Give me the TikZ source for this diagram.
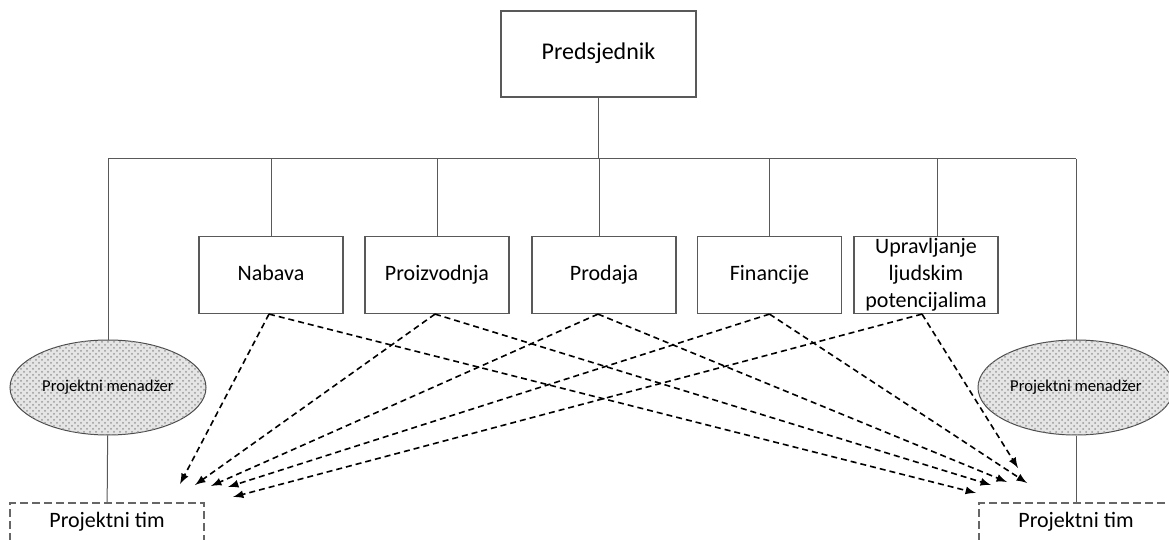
\documentclass[tikz,border=0pt]{standalone}
\usepackage{fontspec}
\setmainfont{Carlito}
\usetikzlibrary{patterns,shapes.geometric}

\tikzset{
  boss/.style={draw=black!65,line width=0.6pt,minimum width=97.5pt,minimum height=43pt,inner sep=0pt,text height=1.6ex,text depth=0.45ex,font=\fontsize{12}{14}\selectfont},
  dept/.style={draw=black!65,line width=0.6pt,minimum width=72pt,minimum height=38.5pt,inner sep=0pt,text height=1.6ex,text depth=0.45ex,align=center,font=\fontsize{11}{13.5}\selectfont},
  pm/.style={draw=black!70,line width=0.5pt,shape=ellipse,minimum width=98pt,minimum height=47.5pt,inner sep=0pt,
    fill=black!10,postaction={pattern=crosshatch dots,pattern color=black!40},font=\fontsize{8.3}{10}\selectfont},
  tim/.style={draw=black!60,dashed,dash pattern=on 4pt off 2pt,line width=0.6pt,minimum width=97pt,minimum height=19pt,inner sep=0pt,text height=1.6ex,text depth=0.45ex,font=\fontsize{11}{13}\selectfont},
  veza/.style={draw=black!65,line width=0.5pt},
  tok/.style={dashed,dash pattern=on 3pt off 2pt,line width=0.8pt,->}
}

\begin{document}
\begin{tikzpicture}[x=0.5pt,y=-0.5pt,>=latex]
      \useasboundingbox (0,0) rectangle (1169,540);
      \node at (598.5,54)[boss] (pred){Predsjednik};
      \node at (271,275)[dept] (nab){Nabava};
      \node at (437,275)[dept] (proi){Proizvodnja};
      \node at (604,275)[dept] (prod){Prodaja};
      \node at (769.5,275)[dept] (fin){Financije};
      \node at (926,275)[dept,text height=,text depth=] (upr){Upravljanje\\ljudskim\\potencijalima};
      \node at (108,387.5)[pm] (pml){Projektni menadžer};
      \node at (1076,387.5)[pm] (pmr){Projektni menadžer};
      \node at (107,522)[tim] (timl){Projektni tim};
      \node at (1076,522)[tim] (timr){Projektni tim};
      % linija ispod predsjednika
      \coordinate (hl) at (108,159);
      \coordinate (hr) at (1076,159);
      \draw[veza] (hl) -- (hr);
      \draw[veza] (pred) -- (pred |- hl);
      \draw[veza] (nab) -- (nab |- hl);
      \draw[veza] (proi) -- (proi |- hl);
      \draw[veza] ([xshift=-2.5pt]prod.north) -- ([xshift=-2.5pt]prod.north |- hl);
      \draw[veza] (fin) -- (fin |- hl);
      \draw[veza] ([xshift=5.5pt]upr.north) -- ([xshift=5.5pt]upr.north |- hl);
      \draw[veza] (pml) -- (hl);
      \draw[veza] (pmr) -- (hr);
      \draw[veza] (pml) -- (timl);
      \draw[veza] (pmr) -- (timr);
      % krajevi strelica
      \coordinate (l1) at (180,484);
      \coordinate (l2) at (195,485);
      \coordinate (l3) at (211,486);
      \coordinate (l4) at (228,487);
      \coordinate (l5) at (233,497);
      \coordinate (d1) at (976,493);
      \coordinate (d2) at (991,485);
      \coordinate (d3) at (1007,482);
      \coordinate (d4) at (1027,483);
      \coordinate (d5) at (1018,468);
      \draw[tok] ([xshift=-1pt]nab.south) -- (l1);
      \draw[tok] ([xshift=-1pt]nab.south) -- (d1);
      \draw[tok] ([xshift=-1pt]proi.south) -- (l2);
      \draw[tok] ([xshift=-1pt]proi.south) -- (d2);
      \draw[tok] ([xshift=-3pt]prod.south) -- (l3);
      \draw[tok] ([xshift=-3pt]prod.south) -- (d3);
      \draw[tok] (fin.south) -- (l4);
      \draw[tok] (fin.south) -- (d4);
      \draw[tok] ([xshift=-2pt]upr.south) -- (l5);
      \draw[tok] ([xshift=-2pt]upr.south) -- (d5);
\end{tikzpicture}
\end{document}
